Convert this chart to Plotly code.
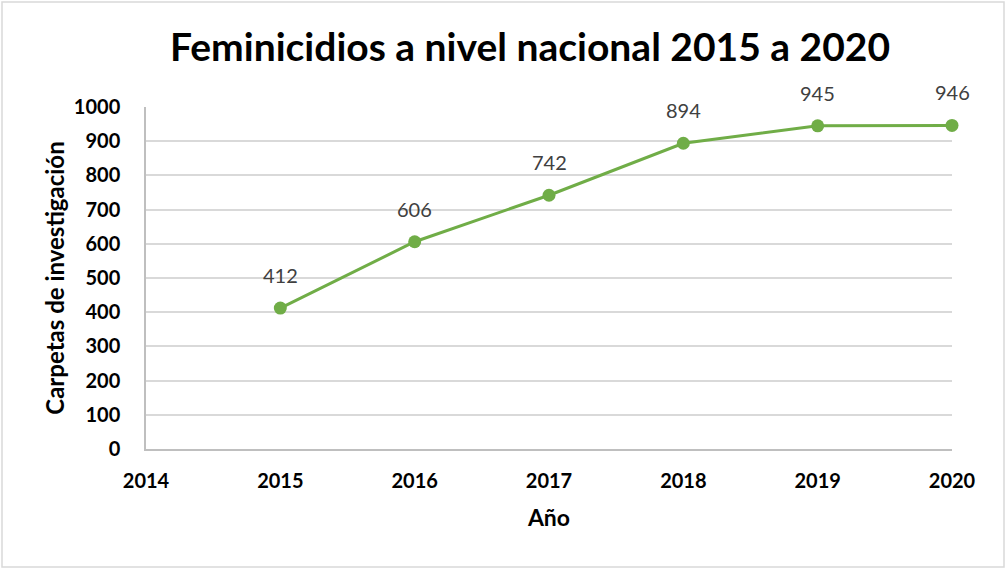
import plotly.graph_objects as go

years = [2015, 2016, 2017, 2018, 2019, 2020]
carpetas = [412, 606, 742, 894, 945, 946]
y_ticks = [0, 100, 200, 300, 400, 500, 600, 700, 800, 900, 1000]

GREEN = "#70ad47"
FONT = "Lato"
W, H = 1008, 569
L, R, T, B = 146, 56, 107, 120

fig = go.Figure()
fig.add_trace(
    go.Scatter(
        x=years,
        y=carpetas,
        mode="lines+markers",
        line=dict(color=GREEN, width=3),
        marker=dict(color=GREEN, size=13),
        cliponaxis=False,
        hoverinfo="x+y",
    )
)

# value labels above each point
for x, y in zip(years, carpetas):
    fig.add_annotation(
        x=x, y=y, text=str(y), showarrow=False, yshift=33,
        font=dict(family=FONT, size=20, color="#404040"),
    )

# light border around the whole chart
pw, ph = W - L - R, H - T - B
fig.add_shape(
    type="rect", xref="paper", yref="paper",
    x0=(2 - L) / pw, x1=(1004 - L) / pw,
    y0=(H - B - 567) / ph, y1=(H - B - 2) / ph,
    line=dict(color="#d9d9d9", width=1.5), layer="below",
)

fig.update_layout(
    width=W,
    height=H,
    margin=dict(l=L, r=R, t=T, b=B),
    paper_bgcolor="white",
    plot_bgcolor="white",
    showlegend=False,
    title=dict(
        text="<b>Feminicidios a nivel nacional 2015 a 2020</b>",
        x=530 / W, xanchor="center",
        y=1 - 47 / H, yanchor="middle",
        font=dict(family=FONT, size=39, color="black"),
    ),
    font=dict(family=FONT, color="black"),
)
fig.update_xaxes(
    range=[2014, 2020],
    dtick=1,
    showgrid=False,
    showline=True,
    linecolor="#bfbfbf",
    linewidth=1.5,
    ticks="",
    ticklabelstandoff=13,
    tickfont=dict(family=FONT, size=20, color="black", weight="bold"),
    title=dict(text="<b>Año</b>", font=dict(family=FONT, size=23), standoff=19),
    zeroline=False,
)
fig.update_yaxes(
    range=[0, 1000],
    tickvals=y_ticks,
    showgrid=True,
    gridcolor="#d9d9d9",
    gridwidth=1.5,
    showline=True,
    linecolor="#bfbfbf",
    linewidth=1.5,
    ticks="",
    ticklabelstandoff=20,
    tickfont=dict(family=FONT, size=20, color="black", weight="bold"),
    title=dict(text="<b>Carpetas de investigación</b>", font=dict(family=FONT, size=24), standoff=2),
    zeroline=False,
)

fig.write_html(
    "out.html",
    config={"displayModeBar": False},
    post_script="document.body.style.margin='0';",
)
